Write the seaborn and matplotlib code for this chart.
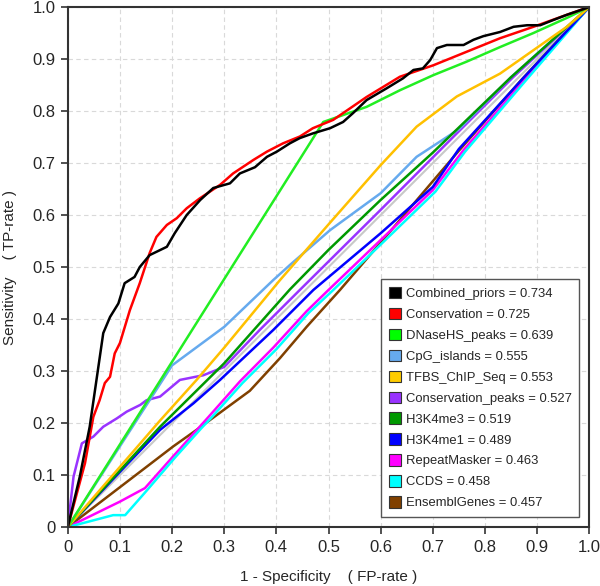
import matplotlib
matplotlib.use("Agg")
import matplotlib.pyplot as plt
from matplotlib.patches import Patch
import pandas as pd
import seaborn as sns

# ROC curves: (1 - specificity, sensitivity)
combined_x = [0, 0.023, 0.042, 0.055, 0.068, 0.081, 0.097, 0.109, 0.128, 0.138, 0.157, 0.19, 0.205,
              0.228, 0.254, 0.279, 0.311, 0.33, 0.359, 0.382, 0.401, 0.426, 0.445, 0.47, 0.503, 0.528,
              0.547, 0.573, 0.612, 0.643, 0.663, 0.681, 0.695, 0.708, 0.727, 0.759, 0.778, 0.797,
              0.829, 0.855, 0.881, 0.906, 0.931, 0.957, 1.0]
combined_y = [0, 0.097, 0.193, 0.283, 0.373, 0.404, 0.43, 0.469, 0.481, 0.5, 0.523, 0.539, 0.565,
              0.6, 0.629, 0.652, 0.661, 0.68, 0.692, 0.712, 0.722, 0.738, 0.748, 0.757, 0.767, 0.779,
              0.796, 0.821, 0.844, 0.863, 0.879, 0.882, 0.898, 0.921, 0.927, 0.927, 0.937, 0.944,
              0.952, 0.962, 0.965, 0.965, 0.975, 0.985, 1.0]

conservation_x = [0, 0.033, 0.049, 0.061, 0.071, 0.081, 0.09, 0.1, 0.119, 0.138, 0.157, 0.17, 0.19,
                  0.209, 0.228, 0.253, 0.292, 0.317, 0.356, 0.382, 0.413, 0.445, 0.47, 0.509, 0.573,
                  0.637, 0.701, 0.765, 0.829, 0.893, 0.957, 1.0]
conservation_y = [0, 0.123, 0.212, 0.244, 0.277, 0.289, 0.334, 0.354, 0.417, 0.469, 0.527, 0.558, 0.581,
                  0.594, 0.613, 0.632, 0.658, 0.68, 0.706, 0.722, 0.738, 0.751, 0.767, 0.783, 0.827,
                  0.866, 0.888, 0.914, 0.94, 0.962, 0.985, 1.0]

dnase_x = [0, 0.49, 0.573, 0.637, 0.701, 0.765, 0.829, 0.893, 0.957, 1.0]
dnase_y = [0, 0.779, 0.808, 0.84, 0.869, 0.895, 0.923, 0.95, 0.979, 1.0]

cpg_x = [0, 0.2, 0.3, 0.394, 0.426, 0.503, 0.6, 0.669, 0.75, 0.85, 1.0]
cpg_y = [0, 0.311, 0.385, 0.475, 0.504, 0.571, 0.642, 0.712, 0.765, 0.865, 1.0]

tfbs_x = [0, 0.177, 0.247, 0.3, 0.407, 0.5, 0.6, 0.669, 0.746, 0.829, 0.893, 0.957, 1.0]
tfbs_y = [0, 0.205, 0.283, 0.345, 0.475, 0.582, 0.696, 0.77, 0.828, 0.872, 0.917, 0.962, 1.0]

cons_peaks_x = [0, 0.011, 0.027, 0.049, 0.068, 0.094, 0.113, 0.139, 0.151, 0.177, 0.215, 0.26, 0.3,
                0.369, 0.445, 0.6, 0.746, 0.855, 1.0]
cons_peaks_y = [0, 0.097, 0.161, 0.174, 0.193, 0.209, 0.222, 0.235, 0.244, 0.251, 0.283, 0.292, 0.308,
                0.38, 0.456, 0.61, 0.757, 0.866, 1.0]

h3k4me3_x = [0, 0.177, 0.3, 0.426, 0.5, 0.6, 0.7, 0.85, 1.0]
h3k4me3_y = [0, 0.193, 0.315, 0.457, 0.533, 0.629, 0.72, 0.865, 1.0]

h3k4me1_x = [0, 0.113, 0.177, 0.241, 0.292, 0.394, 0.471, 0.6, 0.7, 0.75, 0.875, 1.0]
h3k4me1_y = [0, 0.12, 0.187, 0.238, 0.283, 0.379, 0.456, 0.565, 0.654, 0.727, 0.865, 1.0]

repeat_x = [0, 0.1, 0.148, 0.202, 0.253, 0.27, 0.33, 0.394, 0.458, 0.5, 0.6, 0.7, 0.759, 0.88, 1.0]
repeat_y = [0, 0.049, 0.075, 0.136, 0.193, 0.212, 0.28, 0.345, 0.415, 0.456, 0.552, 0.648, 0.725, 0.865, 1.0]

ccds_x = [0, 0.087, 0.11, 0.152, 0.205, 0.256, 0.275, 0.335, 0.4, 0.462, 0.505, 0.605, 0.705, 0.762, 0.882, 1.0]
ccds_y = [0, 0.023, 0.023, 0.071, 0.133, 0.19, 0.21, 0.277, 0.342, 0.412, 0.452, 0.548, 0.645, 0.722, 0.863, 1.0]

ensembl_x = [0, 0.202, 0.247, 0.349, 0.407, 0.458, 0.522, 0.6, 0.7, 0.746, 0.87, 1.0]
ensembl_y = [0, 0.155, 0.187, 0.262, 0.325, 0.385, 0.456, 0.547, 0.665, 0.719, 0.86, 1.0]

names = ["Combined_priors", "Conservation", "DNaseHS_peaks", "CpG_islands", "TFBS_ChIP_Seq",
         "Conservation_peaks", "H3K4me3", "H3K4me1", "RepeatMasker", "CCDS", "EnsemblGenes"]
aucs = [0.734, 0.725, 0.639, 0.555, 0.553, 0.527, 0.519, 0.489, 0.463, 0.458, 0.457]
colors = ["#000000", "#ff0000", "#22ee22", "#66aaee", "#ffc000", "#9933ff", "#009900",
          "#0000ff", "#ff00ff", "#00ffff", "#804000"]
swatch_colors = ["#000000", "#ff0000", "#00ff00", "#66aaee", "#ffcc00", "#9933ff", "#009900",
                 "#0000ff", "#ff00ff", "#00ffff", "#804000"]
curves = [(combined_x, combined_y), (conservation_x, conservation_y), (dnase_x, dnase_y),
          (cpg_x, cpg_y), (tfbs_x, tfbs_y), (cons_peaks_x, cons_peaks_y), (h3k4me3_x, h3k4me3_y),
          (h3k4me1_x, h3k4me1_y), (repeat_x, repeat_y), (ccds_x, ccds_y), (ensembl_x, ensembl_y)]

# order in which the lines are drawn (later = on top)
draw_order = ["EnsemblGenes", "RepeatMasker", "CCDS", "H3K4me1", "Conservation_peaks", "CpG_islands",
              "H3K4me3", "TFBS_ChIP_Seq", "DNaseHS_peaks", "Conservation", "Combined_priors"]

rows = []
for name, (xs, ys) in zip(names, curves):
    for i, (xv, yv) in enumerate(zip(xs, ys)):
        rows.append({"track": name, "step": i, "fpr": xv, "tpr": yv})
df = pd.DataFrame(rows)
diag = pd.DataFrame({"fpr": [0, 1], "tpr": [0, 1]})

sns.set_style("ticks")
plt.rcParams["font.family"] = ["Liberation Sans", "DejaVu Sans"]

fig = plt.figure(figsize=(6.0, 5.86), dpi=100)
ax = fig.add_axes([0.113, 0.1005, 0.869, 0.8875])

ax.grid(True, color="#d9d9d9", linestyle=(0, (4, 3)), linewidth=0.8)
ax.set_axisbelow(True)

sns.lineplot(data=diag, x="fpr", y="tpr", color="#c8c8c8", linewidth=1.5, ax=ax)
palette = dict(zip(names, colors))
sns.lineplot(data=df, x="fpr", y="tpr", hue="track", hue_order=draw_order, palette=palette,
             sort=False, estimator=None, units="track", linewidth=1.8, legend=False, ax=ax)

ticks = [i / 10 for i in range(11)]
labels = ["0"] + [f"{t:.1f}" for t in ticks[1:]]
ax.set_xlim(0, 1)
ax.set_ylim(0, 1)
ax.set_xticks(ticks)
ax.set_xticklabels(labels)
ax.set_yticks(ticks)
ax.set_yticklabels(labels)
ax.tick_params(direction="out", length=5, width=1.2, labelsize=12, color="#333333", pad=4)
for s in ax.spines.values():
    s.set_linewidth(1.5)
    s.set_color("#333333")

ax.set_xlabel("1 - Specificity    ( FP-rate )", fontsize=11, labelpad=11)
ax.set_ylabel("Sensitivity    ( TP-rate )", fontsize=11, labelpad=11)

handles = [Patch(facecolor=c, edgecolor="#333333", linewidth=0.8) for c in swatch_colors]
leg_labels = [f"{n} = {a:.3f}" for n, a in zip(names, aucs)]
leg = ax.legend(handles, leg_labels, loc="lower right", bbox_to_anchor=(0.981, 0.019),
                fontsize=9.4, frameon=True, fancybox=False, framealpha=1, edgecolor="#555555",
                handlelength=0.95, handleheight=0.95, handletextpad=0.35, labelspacing=0.6,
                borderpad=0.6, borderaxespad=0)
leg.get_frame().set_linewidth(1.0)

fig.savefig("out.png", dpi=100)
